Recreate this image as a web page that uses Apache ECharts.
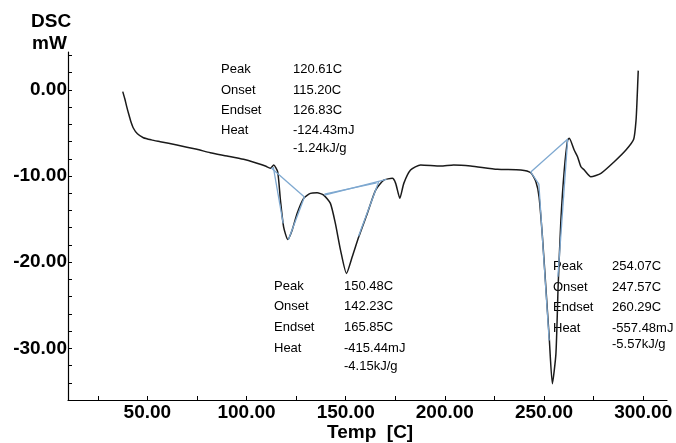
<!DOCTYPE html>
<html>
<head>
<meta charset="utf-8">
<script src="https://cdn.jsdelivr.net/npm/echarts@6/dist/echarts.min.js"></script>
<style>
  html, body { margin: 0; padding: 0; background: #fff; }
  #chart { width: 676px; height: 443px; }
</style>
</head>
<body>
<div id="chart"></div>
<script>
// DSC curve
var temp = [37.6, 38.6, 39.6, 40.6, 41.6, 43.0, 45.0, 48.0, 52.0, 56.5, 64.9, 75.0, 81.7, 90.2, 98.5, 105.3, 109.5, 112.0, 113.7,
  115.7, 117.1, 118.7, 120.8, 123.0, 125.5, 128.8, 132.2, 135.6, 138.9, 142.3, 144.8, 147.4, 150.4,
  153.3, 156.6, 160.9, 165.1, 169.2, 173.5, 175.2, 177.3, 179.3, 182.7, 187.8, 197.9, 204.4, 213.0,
  226.5, 238.3, 243.3, 245.9, 247.5, 249.2, 250.9, 252.6, 254.2, 256.0, 257.1, 258.5, 260.2, 261.9,
  262.7, 265.2, 266.9, 268.6, 270.3, 273.6, 278.7, 285.4, 291.3, 295.2, 296.4, 296.9, 297.5];
var dsc = [-0.2, -1.0, -1.94, -2.8, -3.6, -4.45, -5.1, -5.55, -5.8, -6.01, -6.40, -6.90, -7.29, -7.67, -8.06, -8.52, -8.84, -9.10, -8.72,
  -9.50, -12.79, -15.90, -17.36, -16.28, -14.34, -12.59, -12.01, -11.94, -12.21, -13.17, -15.50, -18.60, -21.31,
  -19.38, -17.06, -14.34, -11.63, -10.47, -10.27, -10.85, -12.59, -10.85, -9.30, -8.72, -8.84, -8.72, -8.84,
  -9.22, -9.30, -9.62, -10.66, -12.41, -17.06, -22.87, -28.69, -34.10, -30.62, -22.87, -15.12, -9.30, -5.81,
  -5.62, -6.98, -7.76, -8.92, -9.30, -10.08, -9.69, -8.34, -6.98, -5.73, -3.49, -1.16, 2.24];

// baselines and tangents drawn by the analysis software
var peak1Lines = [
  [[112.5, -9.07], [129.2, -12.44]],
  [[113.5, -8.95], [118.5, -15.5]],
  [[121.1, -17.4], [129.2, -12.44]]
];
var peak2Lines = [
  [[139.3, -12.21], [170.6, -10.38]],
  [[139.3, -12.1], [165.6, -10.8]],
  [[156.5, -17.0], [166.6, -10.7]]
];
var peak3Lines = [
  [[243.3, -9.53], [262.0, -5.70]],
  [[243.3, -9.53], [247.4, -10.93], [252.6, -29.1]],
  [[261.9, -5.81], [257.0, -21.7]]
];

var xTicks = [25, 50, 75, 100, 125, 150, 175, 200, 225, 250, 275, 300];
var xLabels = [50, 100, 150, 200, 250, 300];
var yTicks = [-34, -32, -30, -28, -26, -24, -22, -20, -18, -16, -14, -12, -10, -8, -6, -4, -2, 0, 2, 4];
var yLabels = [-30, -20, -10, 0];

var ann1 = [['Peak', '120.61C'], ['Onset', '115.20C'], ['Endset', '126.83C'], ['Heat', '-124.43mJ'], ['', '-1.24kJ/g']];
var ann2 = [['Peak', '150.48C'], ['Onset', '142.23C'], ['Endset', '165.85C'], ['Heat', '-415.44mJ'], ['', '-4.15kJ/g']];
var ann3 = [['Peak', '254.07C'], ['Onset', '247.57C'], ['Endset', '260.29C'], ['Heat', '-557.48mJ'], ['', '-5.57kJ/g']];

var FONT = 'Liberation Sans, Arial, sans-serif';
var chart = echarts.init(document.getElementById('chart'));

var series = [{
  type: 'line',
  data: temp.map(function (t, i) { return [t, dsc[i]]; }),
  showSymbol: false,
  smooth: 0.2,
  lineStyle: { color: '#1a1a1a', width: 1.5 },
  z: 3
}];
peak1Lines.concat(peak2Lines, peak3Lines).forEach(function (l) {
  series.push({
    type: 'line',
    data: l,
    showSymbol: false,
    lineStyle: { color: '#7ea8d0', width: 1.3 },
    z: 4
  });
});

function block(rows, x1, x2, ys) {
  var out = [];
  rows.forEach(function (r, i) {
    if (r[0]) out.push({ type: 'text', left: x1, top: ys[i] - 7, style: { text: r[0], font: '13px ' + FONT, fill: '#000' } });
    out.push({ type: 'text', left: x2, top: ys[i] - 7, style: { text: r[1], font: '13px ' + FONT, fill: '#000' } });
  });
  return out;
}

var graphics = []
  .concat(block(ann1, 221, 293, [70, 91, 111, 131, 149]))
  .concat(block(ann2, 274, 344, [287, 307, 328, 349, 367]))
  .concat(block(ann3, 553, 612, [267, 288, 308, 329, 345]));
graphics.push({ type: 'text', left: 31, top: 12, style: { text: 'DSC', font: 'bold 19px ' + FONT, fill: '#000' } });
graphics.push({ type: 'text', left: 32, top: 34, style: { text: 'mW', font: 'bold 19px ' + FONT, fill: '#000' } });
graphics.push({ type: 'text', left: 327, top: 423, style: { text: 'Temp  [C]', font: 'bold 19px ' + FONT, fill: '#000' } });

chart.setOption({
  backgroundColor: '#ffffff',
  animation: false,
  grid: { left: 68, right: 9, top: 52, bottom: 43 },
  xAxis: {
    type: 'value',
    min: 10,
    max: 312,
    splitLine: { show: false },
    axisLine: { onZero: false, lineStyle: { color: '#000', width: 1.2 } },
    axisTick: { inside: true, length: 4, customValues: xTicks, lineStyle: { color: '#000' } },
    axisLabel: {
      customValues: xLabels,
      formatter: function (v) { return v.toFixed(2); },
      color: '#000', fontSize: 19, fontWeight: 'bold', fontFamily: FONT, margin: 3
    }
  },
  yAxis: {
    type: 'value',
    min: -36,
    max: 4.4,
    splitLine: { show: false },
    axisLine: { show: true, onZero: false, lineStyle: { color: '#000', width: 1.2 } },
    axisTick: { show: true, inside: true, length: 4, customValues: yTicks, lineStyle: { color: '#000' } },
    axisLabel: {
      customValues: yLabels,
      formatter: function (v) { return v.toFixed(2); },
      color: '#000', fontSize: 19, fontWeight: 'bold', fontFamily: FONT, margin: 1
    }
  },
  series: series,
  graphic: graphics
});
</script>
</body>
</html>
